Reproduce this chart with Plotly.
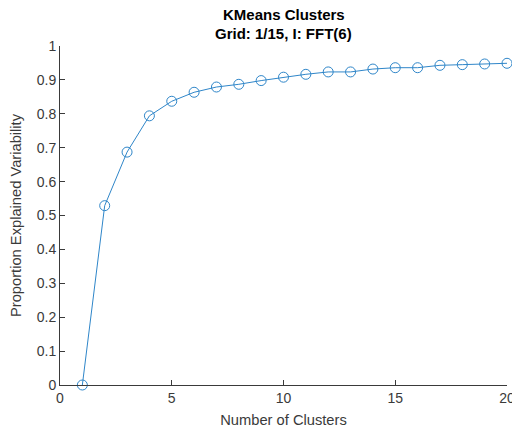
import plotly.graph_objects as go

clusters = list(range(1, 21))
prop_explained = [0.0, 0.529, 0.687, 0.794, 0.837, 0.8635, 0.879, 0.887, 0.898, 0.908,
                  0.9165, 0.9235, 0.9235, 0.932, 0.936, 0.936, 0.943, 0.945, 0.947, 0.949]
x_ticks = [0, 5, 10, 15, 20]
y_ticks = [0, 0.1, 0.2, 0.3, 0.4, 0.5, 0.6, 0.7, 0.8, 0.9, 1]
y_tick_text = ["0", "0.1", "0.2", "0.3", "0.4", "0.5", "0.6", "0.7", "0.8", "0.9", "1"]
title_lines = ["KMeans Clusters", "Grid: 1/15, I: FFT(6)"]

color = "#2f86c9"
fig = go.Figure(go.Scatter(
    x=clusters, y=prop_explained, mode="lines+markers",
    line=dict(color=color, width=1),
    marker=dict(symbol="circle-open", size=10, color=color, line=dict(width=1, color=color)),
    cliponaxis=False,
))

axis_col = "#3a3a3a"
font = "Liberation Sans, Arial, sans-serif"
W, H = 512, 432
L, R, T, B = 60, 5, 46, 47
ph = H - T - B
fig.update_layout(
    width=W, height=H,
    margin=dict(l=L, r=R, t=T, b=B, autoexpand=False),
    paper_bgcolor="white", plot_bgcolor="white",
    showlegend=False,
    font=dict(family=font, size=14, color=axis_col),
)
for txt, ypx in zip(title_lines, [15, 33]):
    fig.add_annotation(text="<b>" + txt + "</b>", xref="paper", yref="paper",
                       x=0.5, y=1 + (T - ypx) / ph, xanchor="center", yanchor="middle",
                       showarrow=False, font=dict(family=font, size=15, color="#000000"))
fig.update_xaxes(
    range=[0, 20], tickvals=x_ticks, ticktext=[str(v) for v in x_ticks],
    showgrid=False, zeroline=False, showline=True, linecolor=axis_col, linewidth=1,
    ticks="inside", ticklen=5, tickcolor=axis_col, tickfont=dict(size=14, color=axis_col),
    ticklabeloverflow="allow", automargin=False,
    title=dict(text="Number of Clusters", font=dict(size=14.7, color=axis_col), standoff=9),
)
fig.update_yaxes(
    range=[0, 1], tickvals=y_ticks, ticktext=y_tick_text,
    showgrid=False, zeroline=False, showline=True, linecolor=axis_col, linewidth=1,
    ticks="inside", ticklen=5, tickcolor=axis_col, tickfont=dict(size=14, color=axis_col),
    automargin=False,
    title=dict(text="Proportion Explained Variability", font=dict(size=14.7, color=axis_col), standoff=11),
)
fig.write_html("out.html", config={"displayModeBar": False},
               post_script="document.body.style.margin='0';")
